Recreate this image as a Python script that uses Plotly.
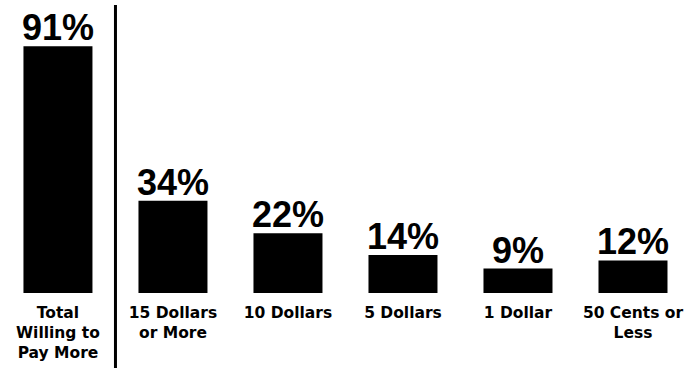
import plotly.graph_objects as go

categories = ["Total<br>Willing to<br>Pay More", "15 Dollars<br>or More", "10 Dollars",
              "5 Dollars", "1 Dollar", "50 Cents or<br>Less"]
values = [91, 34, 22, 14, 9, 12]
value_labels = [f"{v}%" for v in values]

xs = list(range(len(categories)))

fig = go.Figure()
fig.add_trace(go.Bar(
    x=xs, y=values,
    marker=dict(color="black", line=dict(width=0)),
    width=0.6, hoverinfo="skip",
))

# value labels above bars
for x, v, lab in zip(xs, values, value_labels):
    fig.add_annotation(x=x, y=v, xref="x", yref="y", text=lab, showarrow=False,
                       yanchor="bottom", yshift=-4,
                       font=dict(family="Liberation Sans", size=36, color="black", weight="bold"))

fig.add_shape(type="line", xref="x", yref="paper", x0=0.5, x1=0.5, y0=-0.3, y1=1.0,
              line=dict(color="black", width=3))

fig.update_layout(
    width=689, height=368,
    margin=dict(l=0, r=0, t=5, b=75, autoexpand=False),
    plot_bgcolor="white", paper_bgcolor="white",
    showlegend=False, bargap=0.4,
    xaxis=dict(range=[-0.504, 5.487], tickmode="array", tickvals=xs,
               ticktext=categories,
               showgrid=False, zeroline=False, showline=False, ticks="",
               ticklabelstandoff=8, automargin=False,
               tickfont=dict(family="DejaVu Sans", size=15.5, color="black", weight="bold")),
    yaxis=dict(range=[0, 106.2], visible=False, showgrid=False, zeroline=False,
               automargin=False),
)

fig.write_html("out.html", config={"displayModeBar": False},
               post_script="document.body.style.margin='0';document.body.style.overflow='hidden';")
